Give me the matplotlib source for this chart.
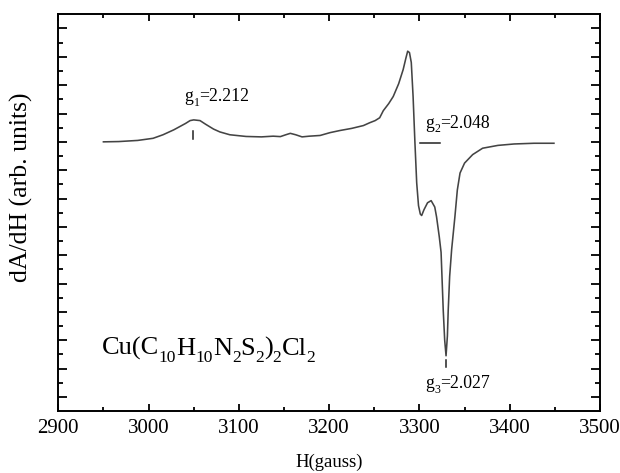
import matplotlib
matplotlib.use("Agg")
import matplotlib.pyplot as plt
from matplotlib.ticker import MultipleLocator, FixedLocator
from matplotlib.transforms import offset_copy

plt.rcParams['font.family'] = ['Liberation Serif', 'DejaVu Serif']

# EPR spectrum (field in gauss, signal in arb. units)
field = [2950, 2967, 2988, 3005, 3016, 3028, 3041, 3046, 3050, 3057, 3063, 3072,
         3079, 3090, 3108, 3125, 3138, 3146, 3152, 3157, 3163, 3170, 3178, 3190,
         3201, 3212, 3225, 3238, 3245, 3251, 3256, 3260, 3266, 3271, 3277, 3282,
         3285, 3287, 3289, 3291, 3293, 3295, 3297, 3299, 3301, 3302.5, 3305, 3309,
         3313, 3317, 3319, 3322, 3324, 3326.4, 3328, 3329.5, 3331, 3331.9, 3333.5,
         3335.7, 3339.3, 3342, 3345, 3350, 3359, 3370, 3387, 3405, 3427, 3449]
signal = [19.0, 19.02, 19.1, 19.25, 19.5, 19.85, 20.3, 20.5, 20.55, 20.5, 20.25, 19.9,
          19.7, 19.5, 19.38, 19.35, 19.4, 19.37, 19.5, 19.6, 19.5, 19.35, 19.4, 19.45,
          19.65, 19.8, 19.95, 20.15, 20.35, 20.5, 20.7, 21.2, 21.7, 22.2, 23.1, 24.1,
          24.9, 25.4, 25.3, 24.6, 22.2, 19.0, 16.1, 14.5, 13.9, 13.8, 14.2, 14.7,
          14.85, 14.4, 13.7, 12.3, 11.2, 7.1, 5.0, 3.9, 5.3, 7.1, 9.5,
          11.4, 13.7, 15.6, 16.8, 17.5, 18.1, 18.55, 18.75, 18.85, 18.9, 18.9]

# label pieces: (text, is_subscript)
g1_label = [('g', False), ('1', True), ('=2.212', False)]
g2_label = [('g', False), ('2', True), ('=2.048', False)]
g3_label = [('g', False), ('3', True), ('=2.027', False)]
formula = [('Cu(C', False), ('10', True), ('H', False), ('10', True), ('N', False),
           ('2', True), ('S', False), ('2', True), (')', False), ('2', True),
           ('Cl', False), ('2', True)]

fig = plt.figure(figsize=(6.2, 4.73), dpi=100)
ax = fig.add_axes([0.094, 0.131, 0.8737, 0.8387])
renderer = fig.canvas.get_renderer()


def subscript_text(x, y, pieces, size, sub_scale=0.66, drop=0.27):
    # draws text with deep subscripts, left edge at (x, y) baseline
    dx = 0.0
    for txt, sub in pieces:
        fs = size * sub_scale if sub else size
        dy = -drop * size if sub else 0.0
        tr = offset_copy(ax.transData, fig=fig, x=dx, y=dy, units='points')
        t = ax.text(x, y, txt, transform=tr, fontsize=fs, ha='left', va='baseline')
        dx += t.get_window_extent(renderer).width * 72.0 / fig.dpi


ax.plot(field, signal, color='#444444', lw=1.15)

# g-value markers
ax.plot([3049.5, 3049.5], [19.2, 19.8], color='#222222', lw=1.1)
ax.plot([3300.5, 3322.5], [18.92, 18.92], color='#222222', lw=1.1)
ax.plot([3330, 3330], [3.1, 3.6], color='#222222', lw=1.1)
subscript_text(3040, 21.9, g1_label, 12.8)
subscript_text(3307, 20.0, g2_label, 12.8)
subscript_text(3307, 1.6, g3_label, 12.8)
subscript_text(2948, 3.95, formula, 19)

ax.set_xlim(2900, 3500)
ax.set_ylim(0, 28)
ax.xaxis.set_major_locator(MultipleLocator(100))
ax.xaxis.set_minor_locator(MultipleLocator(50))
ax.yaxis.set_major_locator(FixedLocator(range(1, 28, 2)))
ax.yaxis.set_minor_locator(FixedLocator(range(2, 28, 2)))
ax.set_yticklabels([])
ax.tick_params(which='both', direction='in', top=True, right=True, width=1.3,
               labelsize=15, pad=6)
ax.tick_params(axis='x', which='major', length=5)
ax.tick_params(axis='x', which='minor', length=3)
ax.tick_params(axis='y', which='major', length=6.5)
ax.tick_params(axis='y', which='minor', length=3.6)
for s in ax.spines.values():
    s.set_linewidth(1.4)

ax.set_xlabel('H(gauss)', fontsize=13.5, labelpad=11)
ax.set_ylabel('dA/dH (arb. units)', fontsize=18.5)
ax.yaxis.set_label_coords(-0.046, 0.565)

fig.savefig('out.png', dpi=100)
